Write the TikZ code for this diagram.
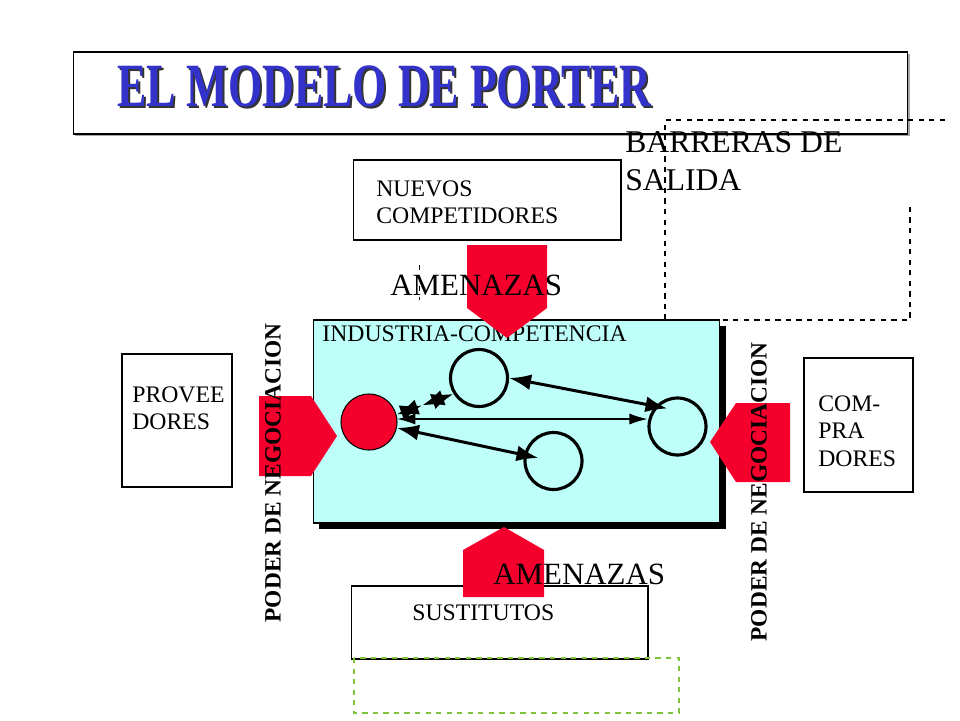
\documentclass[tikz,border=0pt]{standalone}
\usepackage{fontspec}
\setmainfont{Liberation Serif}
\usetikzlibrary{arrows.meta, shadows, calc}

\definecolor{porterred}{RGB}{245,0,45}
\definecolor{indcyan}{RGB}{190,255,250}
\definecolor{titleblue}{RGB}{51,51,204}
\definecolor{dashgreen}{RGB}{125,195,60}

\tikzset{
  box/.style={draw, line width=0.6pt, inner sep=0pt},
  txt/.style={inner sep=0pt, align=left, font=\fontsize{13.5pt}{15.6pt}\selectfont},
  bigtxt/.style={inner sep=0pt, align=left, font=\fontsize{17.6pt}{21.5pt}\selectfont},
  vtxt/.style={inner sep=0pt, rotate=90, font=\fontsize{13.3pt}{16pt}\selectfont\bfseries},
  firm/.style={circle, draw, line width=1.8pt, minimum size=1.14cm, inner sep=0pt},
  dbl/.style={{Latex[length=0.44cm,width=0.32cm]}-{Latex[length=0.44cm,width=0.32cm]}, line width=1.7pt},
  thn/.style={{Latex[length=0.36cm,width=0.22cm]}-{Latex[length=0.36cm,width=0.22cm]}, line width=0.6pt},
  barrera/.style={dashed, line width=0.6pt},
}

\begin{document}
\begin{tikzpicture}[x=0.02cm, y=-0.02cm]
\useasboundingbox (0,0) rectangle (960,720);

% titulo
\node[box, fill=white, minimum width=16.7cm, minimum height=1.64cm,
  drop shadow={shadow xshift=0.04cm, shadow yshift=-0.04cm, fill=gray!70, opacity=1}] (titlebox) at (490.5,93) {};
\node[anchor=west, inner sep=0pt, text=black!80, font=\fontsize{25pt}{30pt}\selectfont\bfseries] (titleshadow) at (119,88) {\scalebox{1}[1.4]{EL MODELO DE PORTER}};
\node[anchor=west, inner sep=0pt, text=titleblue, font=\fontsize{25pt}{30pt}\selectfont\bfseries] (title) at (117,86) {\scalebox{1}[1.4]{EL MODELO DE PORTER}};

\draw[barrera] (945,120) -- (665,120) -- (665,320) -- (910,320) -- (910,205);
\draw[barrera, line width=0.4pt] (419,265) -- (419,300);

\node[box, minimum width=5.36cm, minimum height=1.6cm] (nuevos) at (487,200) {};
\node[txt, anchor=west] (nuevostxt) at (376,202) {NUEVOS\\COMPETIDORES};

\node[bigtxt, anchor=west, font=\fontsize{18pt}{21.6pt}\selectfont] (barreras) at (625,161) {BARRERAS DE\\SALIDA};

% industria
\node[box, fill=indcyan, minimum width=8.14cm, minimum height=4.06cm,
  drop shadow={shadow xshift=0.12cm, shadow yshift=-0.12cm, fill=black, opacity=1}] (industria) at (516.5,421.5) {};
\node[txt, anchor=west] (indlabel) at (322,334) {INDUSTRIA-COMPETENCIA};

\node[firm, fill=porterred, line width=0.6pt, minimum size=1.12cm] (firm0) at (369,422) {};
\node[firm] (firm1) at (479,378) {};
\node[firm] (firm2) at (677.5,426.5) {};
\node[firm] (firm3) at (553.5,461) {};

\draw[dbl] (firm0.15) -- ($(firm0.15)!0.45!(firm1.212)$) coordinate (kink);
\draw[dbl] (kink) -- (firm1.212);
\draw[thn] (firm0.6) -- (firm0.6 -| firm2.west);
\draw[dbl] (firm1.east) -- ($(firm2.center)+(-10,-18)$);
\draw[dbl] (firm0.-12) -- ($(firm3.center)+(-15,-3)$);

% flechas rojas
\fill[porterred] (467,245) -- (547,245) -- (547,308) -- (507,338) -- (467,308) -- cycle;
\fill[porterred] (259,396) -- (311,396) -- (337,436) -- (311,476) -- (259,476) -- cycle;
\fill[porterred] (790,403) -- (736,403) -- (710,442) -- (736,482) -- (790,482) -- cycle;

\node[bigtxt, anchor=west] (amenaza1) at (390,285) {AMENAZAS};

\node[box, minimum width=2.2cm, minimum height=2.66cm] (prov) at (177,420.5) {};
\node[txt, anchor=west] (provtxt) at (132,408.5) {PROVEE\\DORES};
\node[box, minimum width=2.18cm, minimum height=2.68cm] (comp) at (858.5,425) {};
\node[txt, anchor=west] (comptxt) at (818,431) {COM-\\PRA\\DORES};

\node[box, minimum width=5.94cm, minimum height=1.46cm] (sust) at (499.5,622.5) {};
\node[txt, anchor=west] (susttxt) at (412,613) {SUSTITUTOS};
\fill[porterred] (463,597) -- (463,550) -- (504,527) -- (544,550) -- (544,597) -- cycle;
\node[bigtxt, anchor=west] (amenaza2) at (493,574) {AMENAZAS};

\node[vtxt] (poder1) at (273,473) {PODER DE NEGOCIACION};
\node[vtxt] (poder2) at (759,492) {PODER DE NEGOCIACION};

\draw[dashed, dashgreen, line width=0.6pt] (354,658) rectangle (679,713);
\end{tikzpicture}
\end{document}
